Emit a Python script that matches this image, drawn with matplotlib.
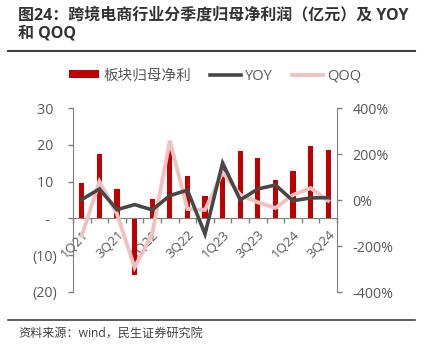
import matplotlib
matplotlib.use('Agg')
import matplotlib.pyplot as plt
import numpy as np
from matplotlib.ticker import FuncFormatter, FixedLocator
from matplotlib.lines import Line2D
from matplotlib.patches import Patch

plt.rcParams['font.family'] = ['Open Sans', 'Noto Sans CJK SC', 'DejaVu Sans']
plt.rcParams['axes.unicode_minus'] = False

############## data ##########################################
quarters = ['1Q21', '2Q21', '3Q21', '4Q21', '1Q22', '2Q22', '3Q22', '4Q22',
            '1Q23', '2Q23', '3Q23', '4Q23', '1Q24', '2Q24', '3Q24']
profit = [9.7, 17.5, 7.9, -15.5, 5.2, 19.0, 11.5, 6.2,
          13.5, 18.2, 16.5, 10.5, 12.8, 19.8, 18.5]          # 亿元
yoy = [2, 48, -42, -20, -43, 19, 43, -148,
       161, 0, 48, 65, -3, 9, 10]                             # %
qoq = [-155, 80, -61, -293, -148, 258, -39, -43,
       120, 23, -10, -35, 22, 52, -3]                         # %

red = '#C00000'
dark = '#474747'
pink = '#EFC2C2'
grey = '#595959'

W, H = 433, 354
fig = plt.figure(figsize=(W / 100, H / 100), dpi=100)

# title + rule
fig.text(18 / W, 1 - 15 / H, '图24：跨境电商行业分季度归母净利润（亿元）及 YOY',
         fontsize=11.5, fontweight='bold', color='#333333', va='center', ha='left')
fig.text(18 / W, 1 - 33 / H, '和 QOQ',
         fontsize=11.5, fontweight='bold', color='#333333', va='center', ha='left')
fig.add_artist(Line2D([8 / W, 415 / W], [1 - 51 / H, 1 - 51 / H],
                      color='#404040', lw=1.5))

# footer
fig.add_artist(Line2D([8 / W, 415 / W], [1 - 320 / H, 1 - 320 / H],
                      color='#404040', lw=1.2))
fig.text(18 / W, 1 - 334 / H, '资料来源：wind，民生证券研究院',
         fontsize=8.7, color='#404040', va='center', ha='left')

ax1 = fig.add_axes([73 / W, 1 - 292 / H, (337 - 73) / W, (292 - 108) / H])
x = np.arange(len(quarters))

ax1.bar(x, profit, width=0.3, color=red, zorder=2)
ax1.set_xlim(-0.5, len(quarters) - 0.5)
ax1.set_ylim(-20, 30)
ax1.set_yticks([-20, -10, 0, 10, 20, 30])


def left_fmt(v, pos):
    # excel accounting style: (neg), "-" for zero, trailing space otherwise
    if v == 0:
        return '-  '
    if v < 0:
        return '(%d)' % abs(v)
    return '%d ' % v


ax1.yaxis.set_major_formatter(FuncFormatter(left_fmt))
ax1.tick_params(axis='y', colors='#7f7f7f', labelcolor=grey, labelsize=10.3,
                length=3.3, width=1, pad=8)

for s in ['top', 'right']:
    ax1.spines[s].set_visible(False)
ax1.spines['left'].set_color('#7f7f7f')
ax1.spines['bottom'].set_position(('data', 0))
ax1.spines['bottom'].set_color('#7f7f7f')
ax1.spines['bottom'].set_zorder(3)

# labels every other quarter, tick marks between categories
ax1.xaxis.set_major_locator(FixedLocator(x[::2]))
ax1.set_xticklabels(quarters[::2], rotation=45, ha='right', va='top',
                    rotation_mode='anchor', fontsize=9.6, color=grey)
ax1.tick_params(axis='x', which='major', length=0, pad=7)
ax1.xaxis.set_minor_locator(FixedLocator(np.arange(-0.5, len(quarters), 1.0)))
ax1.tick_params(axis='x', which='minor', length=3.3, width=1, color='#7f7f7f')

ax2 = ax1.twinx()
ax2.plot(x, qoq, color=pink, lw=2.8, solid_joinstyle='miter', zorder=3)
ax2.plot(x, yoy, color=dark, lw=2.6, solid_joinstyle='miter', zorder=4)
ax2.set_ylim(-400, 400)
ax2.set_yticks([-400, -200, 0, 200, 400])
ax2.yaxis.set_major_formatter(FuncFormatter(lambda v, p: '%d%%' % v))
ax2.tick_params(axis='y', colors='#7f7f7f', labelcolor=grey, labelsize=10.3,
                length=3.3, width=1, pad=8)
for s in ['top', 'left', 'bottom']:
    ax2.spines[s].set_visible(False)
ax2.spines['right'].set_color('#7f7f7f')

handles = [Patch(facecolor=red, edgecolor='none'),
           Line2D([], [], color=dark, lw=2.6),
           Line2D([], [], color=pink, lw=2.8)]
fig.legend(handles, ['板块归母净利', 'YOY', 'QOQ'], loc='center',
           bbox_to_anchor=(215 / W, 1 - 76 / H), ncol=3, frameon=False,
           fontsize=10.5, handlelength=2.1, handleheight=0.5,
           handletextpad=0.3, columnspacing=1.3, labelcolor=grey)

fig.savefig('out.png', dpi=100)
